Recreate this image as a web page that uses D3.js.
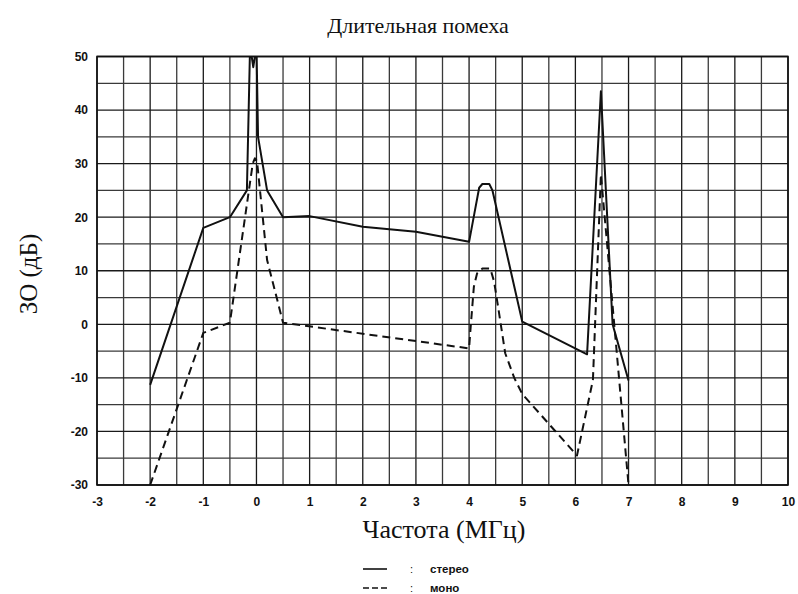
<!DOCTYPE html>
<html><head><meta charset="utf-8">
<script src="https://cdn.jsdelivr.net/npm/d3@7"></script>
<style>
body{margin:0;background:#fff;}
svg{display:block;}
.tick text{font-family:"Liberation Sans",Arial,sans-serif;font-weight:bold;font-size:12px;fill:#111;}
</style></head>
<body>
<svg id="chart" width="798" height="594"></svg>
<script>
const title = "Длительная помеха";
const xLabel = "Частота (МГц)";
const yLabel = "ЗО (дБ)";
const xTicks = [-3,-2,-1,0,1,2,3,4,5,6,7,8,9,10];
const yTicks = [-30,-20,-10,0,10,20,30,40,50];
const seriesNames = ["стерео","моно"];

const stereoX = [-2,-1,-0.5,-0.18,-0.12,-0.06,0.0,0.03,0.2,0.5,1,2,3,4.0,4.1,4.19,4.25,4.38,4.44,5.0,6.22,6.48,6.7,7.0];
const stereoY = [-11.3,18,20,25,52,48,52,35,25,20,20.2,18.2,17.3,15.4,20.7,25.5,26.2,26.2,25,0.5,-5.6,43.5,0,-10.5];

const monoX = [-2,-1,-0.5,-0.07,-0.03,0.01,0.2,0.5,4.0,4.03,4.09,4.15,4.25,4.4,4.47,4.55,4.68,4.85,5.0,6.03,6.33,6.48,7.0];
const monoY = [-30,-1.6,0.3,30,31,30.5,12,0.3,-4.5,-0.5,7,9.5,10.4,10.4,8,3,-5.4,-10,-13,-24.5,-10.4,28,-30];

const svg = d3.select("#chart");
const x = d3.scaleLinear().domain([-3,10]).range([97,788]);
const y = d3.scaleLinear().domain([-30,50]).range([485,56.5]);

// grid
const gx = d3.range(-3, 10.01, 0.5);
const gy = d3.range(-30, 50.01, 5);
svg.append("g").selectAll("line").data(gx).join("line")
  .attr("x1", d=>x(d)).attr("x2", d=>x(d)).attr("y1", y(50)).attr("y2", y(-30))
  .attr("stroke", d=> Number.isInteger(d) ? "#1a1a1a" : "#3a3a3a").attr("stroke-width", 1.3);
svg.append("g").selectAll("line").data(gy).join("line")
  .attr("y1", d=>y(d)).attr("y2", d=>y(d)).attr("x1", x(-3)).attr("x2", x(10))
  .attr("stroke", d=> d%10===0 ? "#1a1a1a" : "#3a3a3a").attr("stroke-width", 1.3);
svg.append("rect").attr("x", x(-3)).attr("y", y(50)).attr("width", x(10)-x(-3)).attr("height", y(-30)-y(50))
  .attr("fill","none").attr("stroke","#111").attr("stroke-width",1.6);

// axes
const fmt = d => String(d);
const xa = svg.append("g").attr("transform", `translate(0,${y(-30)})`)
  .call(d3.axisBottom(x).tickValues(xTicks).tickSize(0).tickPadding(12).tickFormat(fmt));
xa.select(".domain").remove();
const ya = svg.append("g").attr("transform", `translate(${x(-3)},0)`)
  .call(d3.axisLeft(y).tickValues(yTicks).tickSize(0).tickPadding(9).tickFormat(fmt));
ya.select(".domain").remove();

// clip
svg.append("clipPath").attr("id","clip").append("rect")
  .attr("x", x(-3)).attr("y", y(50)).attr("width", x(10)-x(-3)).attr("height", y(-30)-y(50)+1);

const line = d3.line().x(d=>x(d[0])).y(d=>y(d[1]));
const stereo = stereoX.map((v,i)=>[v, stereoY[i]]);
const mono = monoX.map((v,i)=>[v, monoY[i]]);

const gl = svg.append("g").attr("clip-path","url(#clip)");
gl.append("path").datum(mono).attr("d", line).attr("fill","none").attr("stroke","#111")
  .attr("stroke-width",2).attr("stroke-dasharray","8,5").attr("stroke-linejoin","round");
gl.append("path").datum(stereo).attr("d", line).attr("fill","none").attr("stroke","#111")
  .attr("stroke-width",2).attr("stroke-linejoin","round");

// titles
const serif = "Liberation Serif, Times New Roman, serif";
svg.append("text").attr("x", 418).attr("y", 33).attr("text-anchor","middle")
  .attr("font-family",serif).attr("font-size",22).attr("fill","#111").text(title);
svg.append("text").attr("x", 444).attr("y", 538).attr("text-anchor","middle")
  .attr("font-family",serif).attr("font-size",26).attr("fill","#111").text(xLabel);
svg.append("text").attr("transform","translate(37,274) rotate(-90)").attr("text-anchor","middle")
  .attr("font-family",serif).attr("font-size",25).attr("fill","#111").text(yLabel);

// legend
const leg = svg.append("g");
const legY = [569, 588];
seriesNames.forEach((name,i)=>{
  leg.append("line").attr("x1",363).attr("x2",387).attr("y1",legY[i]).attr("y2",legY[i])
    .attr("stroke","#111").attr("stroke-width",1.6).attr("stroke-dasharray", i===1 ? "6,3" : null);
  leg.append("text").attr("x",410).attr("y",legY[i]+4).attr("font-family","Liberation Sans, Arial, sans-serif")
    .attr("font-size",11).attr("fill","#111").text(":");
  leg.append("text").attr("x",430).attr("y",legY[i]+4).attr("font-family","Liberation Sans, Arial, sans-serif")
    .attr("font-size",11.5).attr("font-weight","bold").attr("fill","#111").text(name);
});
</script>
</body></html>
